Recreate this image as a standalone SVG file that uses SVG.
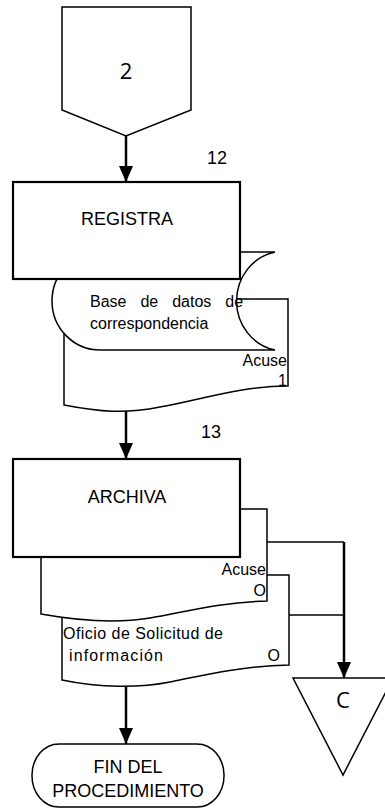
<svg xmlns="http://www.w3.org/2000/svg" width="385" height="809" viewBox="0 0 385 809">
<style>
.sh{fill:#fff;stroke:#000;stroke-width:1.5}
.bx{fill:#fff;stroke:#000;stroke-width:2.2}
.t{font-family:"Liberation Sans",Arial,sans-serif;fill:#000}
.o{font-family:"Open Sans","Noto Sans",sans-serif;fill:#000}
.ln{fill:none;stroke:#000;stroke-width:2.5}
.thin{fill:none;stroke:#000;stroke-width:1.5}
</style>
<defs>
<marker id="arr" viewBox="0 0 16 14" refX="16" refY="7" markerWidth="16" markerHeight="14" orient="auto" markerUnits="userSpaceOnUse">
<path d="M0,0 L16,7 L0,14 Z" fill="#000"/>
</marker>
</defs>
<g id="n-conn2">
<path class="sh" d="M62,7 H191 V110 L126,136 L62,110 Z"/>
<text class="o" x="126" y="79" font-size="22" text-anchor="middle">2</text>
</g>
<g id="n-label12"><text class="t" x="217" y="164" font-size="18" text-anchor="middle">12</text></g>
<g id="n-acuse1">
<path class="sh" d="M64,299 L288,299 L288,386 C240,386 200,400 160,407 C125,414 100,412 64,405 Z"/>
<text class="t" x="287" y="366" font-size="16" text-anchor="end">Acuse</text>
<text class="t" x="287" y="386" font-size="16" text-anchor="end">1</text>
</g>
<g id="n-basedatos">
<path class="sh" d="M100,252 L275,252 A48 50 0 0 0 275,350 L100,350 A48 49 0 0 1 100,252 Z"/>
<text class="t" x="90" y="307" font-size="16" word-spacing="9.5">Base de datos de</text>
<text class="t" x="90" y="329" font-size="16">correspondencia</text>
</g>
<g id="n-registra">
<rect class="bx" x="13" y="182" width="227" height="97"/>
<text class="t" x="127" y="225" font-size="18" text-anchor="middle">REGISTRA</text>
</g>
<g id="n-label13"><text class="t" x="211" y="438" font-size="18" text-anchor="middle">13</text></g>
<g id="n-oficio">
<path class="sh" d="M62,575 L289,575 L289,665 C240,666 200,676 170,682 C140,688 100,688 62,680 Z"/>
<text class="t" x="63" y="639" font-size="16" textLength="160" lengthAdjust="spacing">Oficio de Solicitud de</text>
<text class="t" x="69" y="661" font-size="16" textLength="94" lengthAdjust="spacing">información</text>
<text class="t" x="280" y="661" font-size="16" text-anchor="end">O</text>
</g>
<g id="n-acuseO">
<path class="sh" d="M41,509 L267,509 L267,601 C220,602 185,612 150,618 C120,623 85,622 41,614 Z"/>
<text class="t" x="266" y="575" font-size="16" text-anchor="end">Acuse</text>
<text class="t" x="266" y="596" font-size="16" text-anchor="end">O</text>
</g>
<g id="n-archiva">
<rect class="bx" x="13" y="459" width="227" height="98"/>
<text class="t" x="127" y="503" font-size="18" text-anchor="middle">ARCHIVA</text>
</g>
<g id="n-connC">
<polygon class="sh" points="293,678 393,678 343,775"/>
<text class="o" x="343" y="708" font-size="22" text-anchor="middle">C</text>
</g>
<g id="n-fin">
<rect class="sh" x="32" y="744" width="192" height="63" rx="27" ry="31"/>
<text class="t" x="128" y="773" font-size="18" text-anchor="middle">FIN DEL</text>
<text class="t" x="128" y="797" font-size="18" text-anchor="middle">PROCEDIMIENTO</text>
</g>
<g id="connectors">
<path class="ln" d="M126,136 V182" marker-end="url(#arr)"/>
<path class="ln" d="M126,411 V459" marker-end="url(#arr)"/>
<path class="ln" d="M126,687 V744" marker-end="url(#arr)"/>
<path class="ln" d="M344,542 V678" marker-end="url(#arr)"/>
<path class="thin" d="M267,542 H344"/>
<path class="thin" d="M289,615 H344"/>
</g>
</svg>
